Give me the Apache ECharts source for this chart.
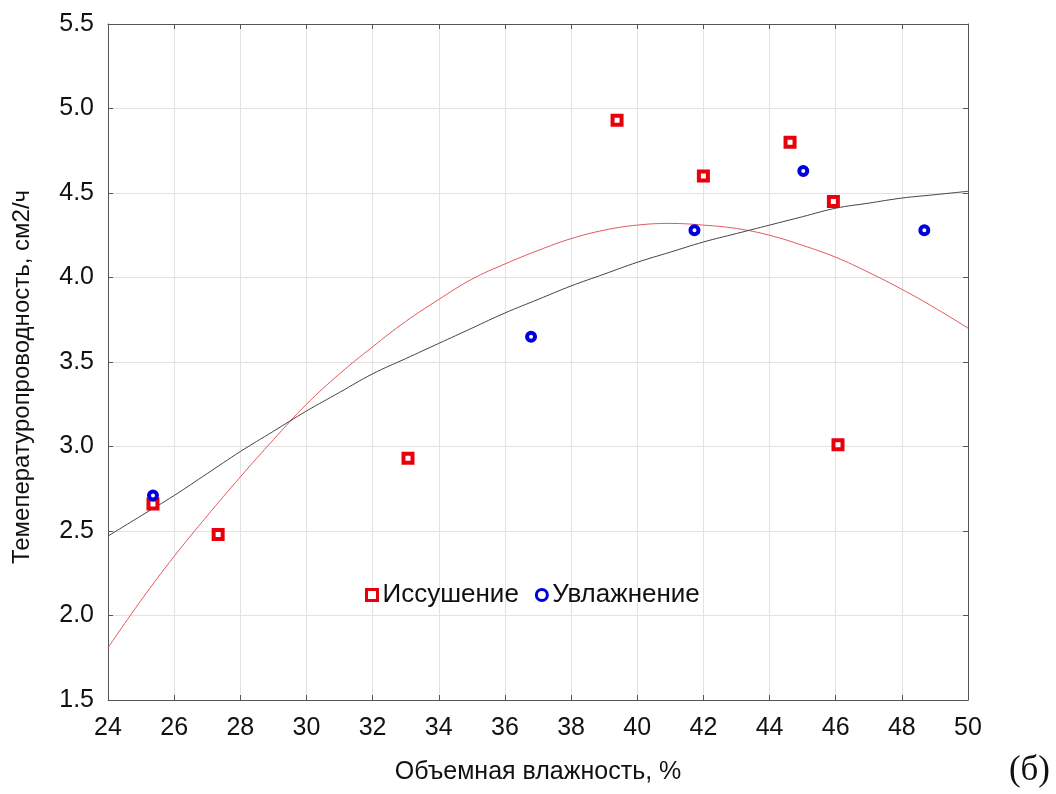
<!DOCTYPE html>
<html>
<head>
<meta charset="utf-8">
<script src="https://cdn.jsdelivr.net/npm/echarts@6/dist/echarts.min.js"></script>
<style>
  html, body { margin: 0; padding: 0; background: #fff; }
  #chart { width: 1056px; height: 794px; }
</style>
</head>
<body>
<div id="chart"></div>
<script>
// measured points
var dryX = [25.36, 27.33, 33.07, 39.39, 42.0, 44.62, 45.93, 46.07];
var dryY = [2.66, 2.48, 2.93, 4.93, 4.60, 4.80, 4.45, 3.01];
var wetX = [25.36, 36.79, 41.73, 45.02, 48.68];
var wetY = [2.71, 3.65, 4.28, 4.63, 4.28];

// fitted curves, every 1 %
var fitX = [24, 25, 26, 27, 28, 29, 30, 31, 32, 33, 34, 35, 36, 37,
            38, 39, 40, 41, 42, 43, 44, 45, 46, 47, 48, 49, 50];
var fitDry = [1.81, 2.09, 2.35, 2.59, 2.82, 3.04, 3.25, 3.43, 3.59, 3.74, 3.87, 3.99, 4.08, 4.16,
              4.23, 4.28, 4.31, 4.32, 4.31, 4.29, 4.25, 4.19, 4.12, 4.03, 3.93, 3.82, 3.70];
var fitAll = [2.47, 2.59, 2.71, 2.84, 2.97, 3.09, 3.21, 3.32, 3.43, 3.52, 3.61, 3.70, 3.79, 3.87,
              3.95, 4.02, 4.09, 4.15, 4.21, 4.26, 4.31, 4.36, 4.41, 4.44, 4.47, 4.49, 4.51];

var zip = function (a, b) { return a.map(function (v, i) { return [v, b[i]]; }); };

var font = 'Liberation Sans, Arial, sans-serif';
var axisLine = { show: true, lineStyle: { color: '#555', width: 1 } };
var tick = { show: true, inside: true, length: 5, lineStyle: { color: '#555' } };

var option = {
    backgroundColor: '#fff',
    animation: false,
    grid: { left: 108, right: 88, top: 24, bottom: 94, outerBoundsMode: 'none', containLabel: false },
    legend: {
        left: 360, top: 577,
        itemWidth: 11, itemHeight: 11, itemGap: 16,
        textStyle: { fontFamily: font, fontSize: 26, color: '#111', padding: [0, 0, 0, 0] },
        data: [
            { name: 'Иссушение', icon: 'rect',
              itemStyle: { color: '#fff', borderColor: '#e8000b', borderWidth: 3 } },
            { name: 'Увлажнение', icon: 'circle',
              itemStyle: { color: '#fff', borderColor: '#0000dd', borderWidth: 3 } }
        ]
    },
    xAxis: [{
        type: 'value', min: 24, max: 50, interval: 2,
        name: 'Объемная влажность, %', nameLocation: 'middle', nameGap: 60,
        nameTextStyle: { fontFamily: font, fontSize: 25, color: '#111' },
        axisLine: axisLine, axisTick: tick,
        axisLabel: { fontFamily: font, fontSize: 25, color: '#111', margin: 16 },
        splitLine: { show: true, lineStyle: { color: '#e2e2e2', width: 1 } }
    }, {
        type: 'value', min: 24, max: 50, interval: 2, position: 'top',
        axisLine: axisLine, axisTick: tick, axisLabel: { show: false }, splitLine: { show: false }
    }],
    yAxis: [{
        type: 'value', min: 1.5, max: 5.5, interval: 0.5,
        name: 'Темепературопроводность, см2/ч', nameLocation: 'middle', nameGap: 74,
        nameTextStyle: { fontFamily: font, fontSize: 24, color: '#111', padding: [0, 30, 0, 0] },
        axisLine: axisLine, axisTick: tick,
        axisLabel: { fontFamily: font, fontSize: 25, color: '#111', margin: 14,
            formatter: function (v) { return v.toFixed(1); } },
        splitLine: { show: true, lineStyle: { color: '#e2e2e2', width: 1 } }
    }, {
        type: 'value', min: 1.5, max: 5.5, interval: 0.5, position: 'right',
        axisLine: axisLine, axisTick: tick, axisLabel: { show: false }, splitLine: { show: false }
    }],
    series: [
        {
            name: 'fitDry', type: 'line', smooth: 0.4, showSymbol: false, silent: true,
            data: zip(fitX, fitDry),
            lineStyle: { color: '#e4585c', width: 1 }, z: 2
        },
        {
            name: 'fitAll', type: 'line', smooth: 0.4, showSymbol: false, silent: true,
            data: zip(fitX, fitAll),
            lineStyle: { color: '#444', width: 1 }, z: 2
        },
        {
            name: 'Иссушение', type: 'scatter', symbol: 'rect', symbolSize: 9,
            data: zip(dryX, dryY),
            itemStyle: { color: '#fff', borderColor: '#e8000b', borderWidth: 4, opacity: 1 }, z: 3
        },
        {
            name: 'Увлажнение', type: 'scatter', symbol: 'circle', symbolSize: 8,
            data: zip(wetX, wetY),
            itemStyle: { color: '#fff', borderColor: '#0000dd', borderWidth: 4, opacity: 1 }, z: 4
        }
    ],
    graphic: [{
        type: 'text', right: 6, top: 753,
        style: { text: '(б)', fontFamily: 'Liberation Serif, Times New Roman, serif', fontSize: 35, fill: '#111' }
    }]
};

echarts.init(document.getElementById('chart')).setOption(option);
</script>
</body>
</html>
